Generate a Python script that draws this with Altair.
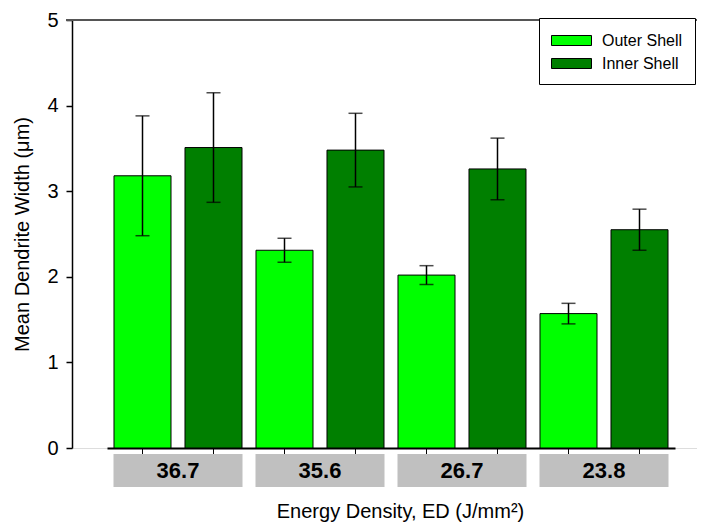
import altair as alt
import pandas as pd

categories = ["36.7", "35.6", "26.7", "23.8"]
series = ["Outer Shell", "Inner Shell"]
outer_mean = [3.18, 2.31, 2.02, 1.57]
outer_err = [0.70, 0.14, 0.11, 0.12]
inner_mean = [3.51, 3.48, 3.26, 2.55]
inner_err = [0.64, 0.43, 0.36, 0.24]
colors = ["#00FF00", "#007F00"]
y_ticks = [0, 1, 2, 3, 4, 5]

rows = []
for i, c in enumerate(categories):
    rows.append({"ed": c, "shell": series[0], "mean": outer_mean[i],
                 "lo": outer_mean[i] - outer_err[i], "hi": outer_mean[i] + outer_err[i]})
    rows.append({"ed": c, "shell": series[1], "mean": inner_mean[i],
                 "lo": inner_mean[i] - inner_err[i], "hi": inner_mean[i] + inner_err[i]})
df = pd.DataFrame(rows)
cat_df = pd.DataFrame({"ed": categories})

FONT = "Liberation Sans"
W, H = 625, 428

x_enc = alt.X("ed:N", sort=categories,
              scale=alt.Scale(range=[35, 603], paddingInner=0, paddingOuter=0),
              axis=alt.Axis(labels=False, ticks=False, domainColor="black", domainWidth=2,
                            title="Energy Density, ED (J/mm²)", titleFont=FONT,
                            titleFontSize=20, titleFontWeight="normal", titleColor="black",
                            titleX=328, titleY=63, titleBaseline="middle", titleAnchor="middle"))
xo_enc = alt.XOffset("shell:N", sort=series,
                     scale=alt.Scale(paddingInner=0.197, paddingOuter=0.0986))
y_scale = alt.Scale(domain=[0, 5], nice=False)

base = alt.Chart(df)

bars = base.mark_bar(stroke="black", strokeWidth=1).encode(
    x=x_enc,
    xOffset=xo_enc,
    y=alt.Y("mean:Q", scale=y_scale,
            axis=alt.Axis(values=y_ticks, format="d", grid=False, domainColor="black",
                          domainWidth=1.5, tickColor="black", tickSize=6, tickWidth=1.5,
                          labelFont=FONT, labelFontSize=20, labelColor="black", labelPadding=8,
                          title="Mean Dendrite Width (μm)", titleFont=FONT, titleFontSize=20,
                          titleFontWeight="normal", titleColor="black",
                          titleX=-50, titleY=H / 2, titleAngle=270, titleBaseline="middle",
                          titleAnchor="middle")),
    color=alt.Color("shell:N", sort=series,
                    scale=alt.Scale(domain=series, range=colors),
                    legend=alt.Legend(title=None, orient="none", legendX=467, legendY=-2,
                                      strokeColor="black", fillColor="white", padding=12,
                                      symbolType="M-2,-0.5H2V0.5H-2Z", symbolSize=400,
                                      symbolOffset=10,
                                      symbolStrokeColor="black", symbolStrokeWidth=1,
                                      symbolOpacity=1, labelFont=FONT, labelFontSize=16,
                                      labelColor="black", labelOffset=20, rowPadding=4)),
)

err = base.mark_rule(color="black", strokeWidth=1.5).encode(
    x=alt.X("ed:N", sort=categories), xOffset=xo_enc,
    y=alt.Y("lo:Q", scale=y_scale), y2="hi:Q")
cap_lo = base.mark_tick(color="black", size=14, thickness=1.5).encode(
    x=alt.X("ed:N", sort=categories), xOffset=xo_enc, y=alt.Y("lo:Q", scale=y_scale))
cap_hi = base.mark_tick(color="black", size=14, thickness=1.5).encode(
    x=alt.X("ed:N", sort=categories), xOffset=xo_enc, y=alt.Y("hi:Q", scale=y_scale))

xticks = base.mark_rule(color="black", strokeWidth=1).encode(
    x=alt.X("ed:N", sort=categories), xOffset=xo_enc,
    y=alt.value(H), y2=alt.value(H + 6))

top_line = alt.Chart(cat_df).mark_rule(color="#555555", strokeWidth=2).encode(
    y=alt.datum(5, scale=y_scale), x=alt.value(-6), x2=alt.value(W))

boxes = alt.Chart(cat_df).mark_bar(color="#C0C0C0", width=129).encode(
    x=alt.X("ed:N", sort=categories), y=alt.value(H + 6), y2=alt.value(H + 39))
box_text = alt.Chart(cat_df).mark_text(font=FONT, fontSize=22, fontWeight="bold",
                                        color="black", baseline="middle").encode(
    x=alt.X("ed:N", sort=categories), y=alt.value(H + 23), text="ed:N")

chart = alt.layer(top_line, bars, err, cap_lo, cap_hi, xticks, boxes, box_text).properties(
    width=W, height=H,
    autosize=alt.AutoSizeParams(type="none"),
    padding={"left": 64, "top": 12, "right": 0, "bottom": 82},
).configure_view(stroke=None).configure(background="white")

chart.save("out.html", embed_options={"renderer": "svg", "actions": False})
